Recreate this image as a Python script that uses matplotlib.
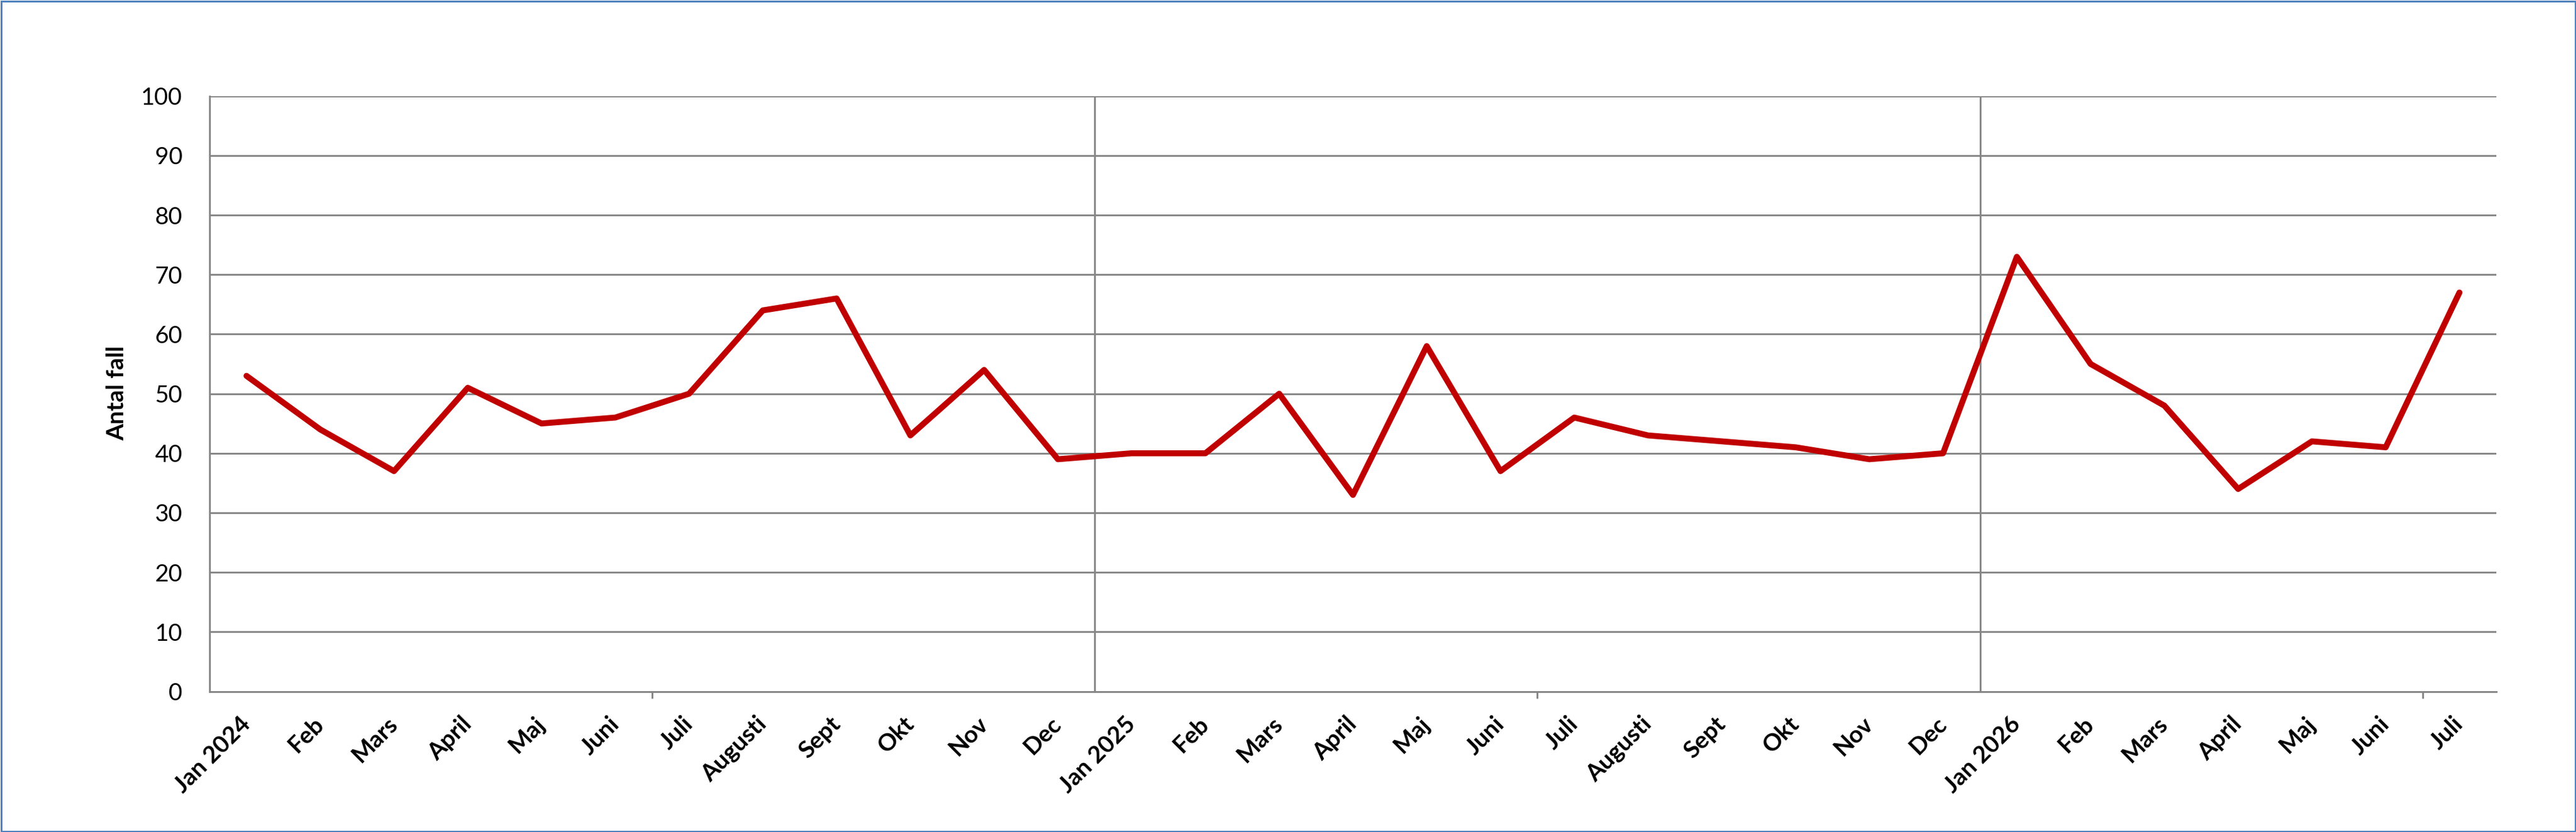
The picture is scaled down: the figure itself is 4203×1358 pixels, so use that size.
import matplotlib
matplotlib.use("Agg")
import matplotlib.pyplot as plt
from matplotlib.patches import Rectangle
from matplotlib.ticker import FixedLocator, NullFormatter

# monthly counts, Jan 2024 - Juli 2026
months = ["Jan 2024", "Feb", "Mars", "April", "Maj", "Juni", "Juli", "Augusti", "Sept", "Okt", "Nov", "Dec",
          "Jan 2025", "Feb", "Mars", "April", "Maj", "Juni", "Juli", "Augusti", "Sept", "Okt", "Nov", "Dec",
          "Jan 2026", "Feb", "Mars", "April", "Maj", "Juni", "Juli"]
antal = [53, 44, 37, 51, 45, 46, 50, 64, 66, 43, 54, 39,
         40, 40, 50, 33, 58, 37, 46, 43, 42, 41, 39, 40,
         73, 55, 48, 34, 42, 41, 67]
year_breaks = [12, 24]
half_year_ticks = [6, 18, 30]
y_ticks = list(range(0, 101, 10))

plt.rcParams['font.family'] = ['Lato', 'DejaVu Sans']

W, H, DPI = 4203, 1358, 100
fig = plt.figure(figsize=(W / DPI, H / DPI), dpi=DPI)
ax = fig.add_axes([342 / W, 1 - 1128.5 / H, (4073 - 342) / W, (1128.5 - 156.8) / H])

grid_col = "#868686"
n = len(months)
x = [i + 0.5 for i in range(n)]
ax.plot(x, antal, color="#C00000", lw=7, solid_joinstyle="round", solid_capstyle="round", zorder=5)

ax.set_xlim(0, n)
ax.set_ylim(0, 100)
ax.set_yticks(y_ticks)
ax.yaxis.grid(True, color=grid_col, lw=2.1)
for b in year_breaks:
    ax.axvline(b, color=grid_col, lw=2.1, zorder=1)
ax.set_axisbelow(True)

for s in ["top", "right"]:
    ax.spines[s].set_visible(False)
for s in ["left", "bottom"]:
    ax.spines[s].set_color(grid_col)
    ax.spines[s].set_linewidth(2.1)

ax.tick_params(axis="y", length=0, pad=32, labelsize=28)
ax.xaxis.set_major_locator(FixedLocator(half_year_ticks))
ax.xaxis.set_major_formatter(NullFormatter())
ax.xaxis.set_minor_locator(FixedLocator(x))
ax.set_xticklabels(months, minor=True)
ax.tick_params(axis="x", which="major", length=8, width=2.1, color=grid_col, direction="out")
ax.tick_params(axis="x", which="minor", length=0, pad=34, labelsize=28)
for lab in ax.get_xticklabels(minor=True):
    lab.set_rotation(45)
    lab.set_ha("right")
    lab.set_va("center")
    lab.set_rotation_mode("anchor")
    lab.set_fontweight("bold")

fig.text(191 / W, 1 - 642 / H, "Antal fall", rotation=90, ha="center", va="center",
         fontsize=28, fontweight="bold")

fig.patches.append(Rectangle((1.5 / W, 1.5 / H), 1 - 3 / W, 1 - 3 / H, transform=fig.transFigure,
                             fill=False, edgecolor="#4F81BD", lw=2.2))

fig.savefig("out.png", dpi=DPI)
